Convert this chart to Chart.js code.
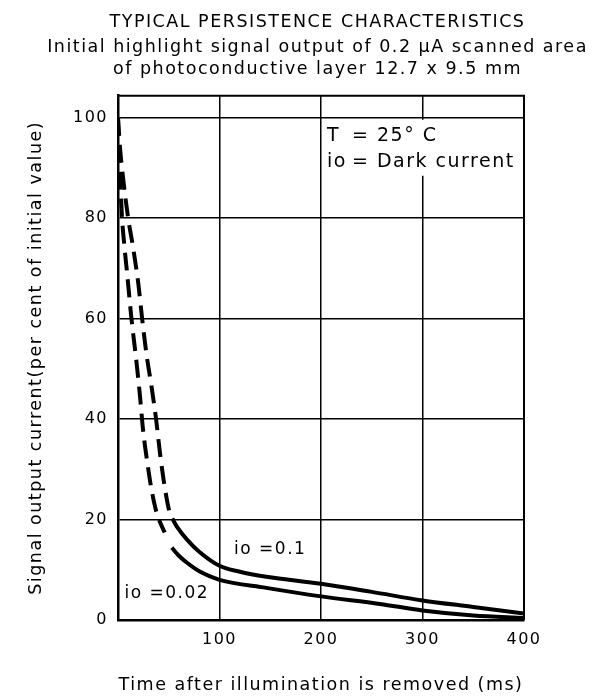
<!DOCTYPE html>
<html><head><meta charset="utf-8">
<script src="https://cdn.jsdelivr.net/npm/chart.js@4"></script>
<style>html,body{margin:0;padding:0;background:#fff}</style>
</head><body>
<canvas id="c" width="595" height="696"></canvas>
<script>
// ---- data ----
const titleText = 'TYPICAL PERSISTENCE CHARACTERISTICS';
const subtitleLines = ['Initial highlight signal output of 0.2 \u00B5A scanned area', 'of photoconductive layer 12.7 x 9.5 mm'];
const xTitle = 'Time after illumination is removed (ms)';
const yTitle = 'Signal output current(per cent of initial value)';
const xTicks = [0, 100, 200, 300, 400];
const yTicks = [0, 20, 40, 60, 80, 100];
const legendLines = [['T', '= 25\u00B0 C'], ['io', '= Dark current']];
const curveLabels = ['io =0.1', 'io =0.02'];

// io = 0.1 (upper curve): dashed part then solid part
const hiDashX = [0, 2, 5, 10, 15, 20, 23.5, 28, 33, 37.5, 41.5, 46, 51, 54];
const hiDashY = [100, 94, 88, 80, 74, 67, 60.5, 53, 46.5, 40, 33, 26.5, 21.3, 20];
const hiSolidX = [54, 58, 68, 80, 100, 120, 146, 200, 250, 300, 350, 400];
const hiSolidY = [20, 18.6, 16, 13.6, 10.8, 9.6, 8.6, 7.2, 5.6, 3.9, 2.6, 1.3];
// io = 0.02 (lower curve): dashed part then solid part
const loDashX = [0, 1, 2.5, 4, 6.5, 9, 13, 18.4, 21.7, 24.6, 29.5, 33, 38, 46];
const loDashY = [100, 92, 86, 80, 74, 69, 60.5, 51, 44.5, 38, 30.5, 26, 21.4, 17.4];
const loSolidX = [53, 60, 68, 81, 100, 146, 200, 258, 300, 350, 400];
const loSolidY = [14.4, 12.8, 11.4, 9.6, 8.0, 6.4, 4.7, 3.2, 1.9, 0.9, 0.4];

const F = 'DejaVu Sans';
const pts = (xs, ys) => xs.map((x, i) => ({x, y: ys[i]}));
const lineDs = (xs, ys, dash) => ({
  data: pts(xs, ys), borderColor: '#000', borderWidth: 4, borderDash: dash,
  pointRadius: 0, fill: false, cubicInterpolationMode: 'monotone', borderCapStyle: 'butt'
});

const spacing = {
  id: 'spacing',
  beforeLayout(chart) { chart.ctx.letterSpacing = '1.5px'; },
  beforeDraw(chart) { chart.ctx.letterSpacing = '1.5px'; }
};

const annot = {
  id: 'annot',
  afterDatasetsDraw(chart) {
    const {ctx, chartArea: a, scales: {x, y}} = chart;
    ctx.save();
    ctx.letterSpacing = '1.5px';
    // frame top/right
    ctx.strokeStyle = '#000'; ctx.lineWidth = 2;
    ctx.beginPath();
    ctx.moveTo(a.left, a.top); ctx.lineTo(a.right, a.top); ctx.lineTo(a.right, a.bottom);
    ctx.stroke();
    // legend text block in the upper-right cell
    const lx = x.getPixelForValue(200) + 3;
    const ty = y.getPixelForValue(100);
    ctx.fillStyle = '#fff';
    ctx.fillRect(lx, ty + 2, a.right - lx - 2, 56);
    ctx.fillStyle = '#000';
    ctx.font = '19px "' + F + '"';
    ctx.textBaseline = 'middle'; ctx.textAlign = 'left';
    legendLines.forEach((l, i) => {
      ctx.fillText(l[0], lx + 3, ty + 18 + i * 26);
      ctx.fillText(l[1], lx + 28, ty + 18 + i * 26);
    });
    // curve labels
    ctx.font = '17px "' + F + '"';
    ctx.textAlign = 'center';
    ctx.fillText(curveLabels[0], x.getPixelForValue(150), y.getPixelForValue(14));
    ctx.fillText(curveLabels[1], x.getPixelForValue(48), y.getPixelForValue(5.2));
    ctx.restore();
  }
};

new Chart(document.getElementById('c'), {
  type: 'line',
  data: { datasets: [
    lineDs(hiDashX, hiDashY, [18, 9]),
    lineDs(hiSolidX, hiSolidY, []),
    lineDs(loDashX, loDashY, [18, 9]),
    lineDs(loSolidX, loSolidY, [])
  ]},
  options: {
    responsive: false, animation: false,
    layout: { padding: { top: 0, left: 40, right: 0, bottom: 0 } },
    plugins: {
      legend: { display: false }, tooltip: { enabled: false },
      title: { display: true, text: titleText, color: '#000', font: { family: F, size: 17.5, weight: 'normal', lineHeight: 1.2 }, padding: { top: 12, bottom: 3.5 } },
      subtitle: { display: true, text: subtitleLines, color: '#000', font: { family: F, size: 17.5, lineHeight: 1.25 }, padding: { top: 0, bottom: 15.4 } }
    },
    scales: {
      x: {
        type: 'linear', min: 0, max: 400,
        afterBuildTicks: s => { s.ticks = xTicks.map(v => ({value: v})); },
        ticks: { callback: v => v === 0 ? '' : String(v), color: '#000', font: { family: F, size: 16 }, padding: 10, maxRotation: 0 },
        grid: { color: '#000', lineWidth: 1.5, drawTicks: false },
        border: { color: '#000', width: 2.5 },
        title: { display: true, text: xTitle, color: '#000', font: { family: F, size: 17.5 }, padding: { top: 0, bottom: 0 } },
        afterFit: s => { s.height = 76; }
      },
      y: {
        type: 'linear', min: 0, max: 104.4,
        afterBuildTicks: s => { s.ticks = yTicks.map(v => ({value: v})); },
        ticks: { color: '#000', font: { family: F, size: 16 }, padding: 10 },
        grid: { color: '#000', lineWidth: 1.5, drawTicks: false },
        border: { color: '#000', width: 2.5 },
        title: { display: true, text: yTitle, color: '#000', font: { family: F, size: 17.5 }, padding: { top: -14, bottom: 0 } },
        afterFit: s => { s.width = 78; }
      },
      yR: {
        type: 'linear', position: 'right', min: 0, max: 104.4,
        grid: { display: false }, ticks: { display: false }, border: { display: false },
        afterFit: s => { s.width = 71; }
      }
    }
  },
  plugins: [spacing, annot]
});
</script>
</body></html>
